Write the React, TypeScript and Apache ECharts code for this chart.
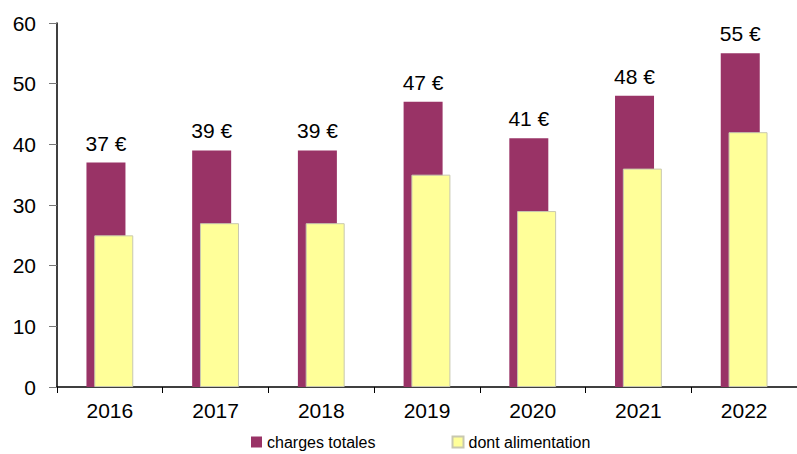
import React, { useEffect, useRef } from "react";
import * as echarts from "echarts";

const categories = ["2016", "2017", "2018", "2019", "2020", "2021", "2022"];
const chargesTotales = [37, 39, 39, 47, 41, 48, 55];
const dontAlimentation = [25, 27, 27, 35, 29, 36, 42];
const seriesNames = ["charges totales", "dont alimentation"];

const FONT = "'Liberation Sans', Arial, sans-serif";

export default function App() {
  const ref = useRef<HTMLDivElement>(null);
  useEffect(() => {
    if (!ref.current) return;
    const chart = echarts.init(ref.current, null, { renderer: "svg" });
    chart.setOption({
      animation: false,
      textStyle: { fontFamily: FONT },
      grid: { left: 57, right: 0, top: 23, bottom: 67 },
      legend: {
        top: 434,
        left: 251,
        padding: 0,
        itemWidth: 11,
        itemHeight: 11,
        itemGap: 76,
        icon: "rect",
        textStyle: { fontFamily: FONT, fontSize: 16, color: "#000" },
        data: seriesNames,
      },
      xAxis: {
        type: "category",
        data: categories,
        axisLine: { lineStyle: { color: "#000", width: 1.5 } },
        axisTick: { show: true, length: 6, lineStyle: { color: "#000" } },
        axisLabel: { fontFamily: FONT, fontSize: 21, color: "#000", margin: 13 },
      },
      yAxis: {
        type: "value",
        min: 0,
        max: 60,
        interval: 10,
        axisLine: { show: true, lineStyle: { color: "#000", width: 1.5 } },
        axisTick: { show: true, inside: false, length: 8, lineStyle: { color: "#777" } },
        splitLine: { show: false },
        axisLabel: { fontFamily: FONT, fontSize: 21, color: "#000", margin: 21 },
      },
      series: [
        {
          name: seriesNames[0],
          type: "bar",
          data: chargesTotales,
          barWidth: 39,
          barGap: "-80%",
          itemStyle: { color: "#993366" },
          label: {
            show: true,
            position: "top",
            distance: 9,
            formatter: "{c} €",
            fontFamily: FONT,
            fontSize: 21,
            color: "#000",
          },
        },
        {
          name: seriesNames[1],
          type: "bar",
          data: dontAlimentation,
          barWidth: 39,
          itemStyle: { color: "#FFFF99", borderColor: "#c8c8b0", borderWidth: 1 },
        },
      ],
    });
    return () => chart.dispose();
  }, []);
  return <div ref={ref} style={{ width: 797, height: 454, position: "absolute", left: 0, top: 0 }} />;
}
